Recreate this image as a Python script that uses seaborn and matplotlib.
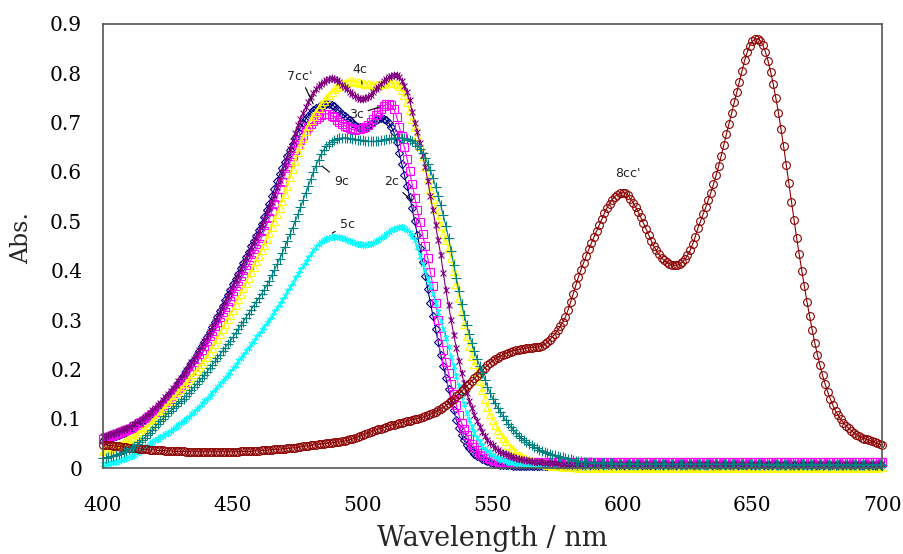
import numpy as np
import matplotlib
matplotlib.use("Agg")
import matplotlib.pyplot as plt
from matplotlib.path import Path
import seaborn as sns

# Absorption spectra, 1 nm steps from 400 to 700 nm.
# Values are Abs x 1000 (one row = 10 nm).
wavelength = np.arange(400, 701)

abs_2c = [
    55, 57, 59, 61, 63, 65, 67, 69, 71, 74,
    78, 81, 84, 88, 92, 96, 100, 104, 108, 113,
    118, 123, 128, 134, 140, 146, 152, 158, 165, 172,
    180, 188, 196, 204, 212, 220, 229, 238, 247, 256,
    265, 275, 285, 296, 307, 318, 329, 340, 351, 361,
    372, 383, 394, 405, 416, 427, 438, 449, 460, 471,
    482, 495, 508, 522, 536, 551, 566, 581, 595, 608,
    620, 633, 645, 657, 669, 680, 690, 699, 707, 714,
    720, 725, 729, 732, 735, 736, 737, 737, 736, 733,
    728, 723, 718, 714, 709, 705, 700, 696, 692, 691,
    691, 692, 694, 697, 701, 705, 708, 709, 708, 705,
    699, 691, 680, 660, 638, 616, 594, 572, 550, 526,
    500, 473, 446, 418, 390, 362, 335, 308, 282, 256,
    230, 206, 183, 160, 138, 117, 98, 82, 68, 56,
    47, 40, 34, 29, 25, 22, 19, 16, 14, 12,
    10, 9, 8, 7, 7, 6, 6, 6, 5, 5,
    5, 5, 5, 5, 5, 5, 5, 5, 5, 5,
    5, 5, 4, 5, 5, 4, 5, 5, 4, 5,
    5, 4, 5, 5, 4, 5, 5, 5, 4, 5,
    5, 4, 5, 5, 5, 4, 5, 5, 4, 5,
    4, 5, 5, 5, 4, 5, 5, 4, 5, 5,
    5, 4, 5, 5, 4, 5, 5, 5, 4, 5,
    5, 4, 5, 5, 5, 4, 5, 5, 4, 5,
    5, 5, 4, 5, 5, 4, 5, 5, 5, 4,
    5, 5, 4, 5, 5, 5, 4, 5, 5, 4,
    5, 5, 5, 4, 5, 5, 4, 5, 5, 5,
    4, 5, 5, 4, 5, 5, 5, 4, 5, 5,
    4, 5, 5, 5, 4, 5, 5, 4, 5, 5,
    5, 4, 5, 5, 4, 5, 5, 5, 4, 5,
    5, 4, 5, 5, 5, 4, 5, 5, 4, 5,
    5,
]

abs_3c = [
    60, 62, 63, 65, 67, 69, 71, 73, 75, 77,
    80, 82, 85, 88, 91, 94, 97, 101, 105, 109,
    113, 118, 123, 128, 134, 140, 146, 152, 158, 163,
    168, 175, 182, 190, 198, 206, 214, 222, 231, 239,
    248, 257, 267, 277, 287, 297, 307, 317, 327, 338,
    348, 359, 369, 380, 390, 401, 411, 422, 433, 444,
    455, 467, 480, 493, 506, 520, 535, 550, 565, 580,
    595, 608, 620, 632, 644, 655, 665, 674, 682, 690,
    697, 703, 708, 712, 715, 717, 718, 717, 714, 711,
    706, 702, 698, 694, 690, 688, 686, 685, 686, 687,
    689, 692, 696, 701, 708, 715, 722, 728, 733, 737,
    738, 735, 727, 712, 692, 672, 650, 627, 602, 575,
    548, 522, 498, 474, 450, 425, 398, 368, 335, 300,
    268, 240, 215, 192, 170, 150, 128, 108, 92, 79,
    68, 58, 49, 42, 36, 31, 27, 24, 21, 18,
    16, 15, 14, 13, 13, 12, 12, 12, 12, 12,
    12, 13, 12, 12, 13, 12, 12, 12, 13, 12,
    12, 12, 13, 12, 12, 13, 12, 12, 12, 13,
    12, 12, 12, 13, 12, 12, 13, 12, 12, 12,
    13, 12, 12, 12, 13, 12, 12, 12, 13, 12,
    12, 13, 12, 12, 12, 13, 12, 12, 12, 13,
    12, 12, 13, 12, 12, 12, 13, 12, 12, 12,
    13, 12, 12, 12, 13, 12, 12, 13, 12, 12,
    12, 13, 12, 12, 12, 13, 12, 12, 12, 13,
    12, 12, 12, 13, 12, 12, 13, 12, 12, 12,
    13, 12, 12, 12, 13, 12, 12, 12, 13, 12,
    12, 13, 12, 12, 12, 13, 12, 12, 13, 12,
    12, 12, 13, 12, 12, 12, 13, 12, 12, 12,
    13, 12, 12, 13, 12, 12, 12, 13, 12, 12,
    12, 13, 12, 12, 12, 13, 12, 12, 12, 13,
    12,
]

abs_4c = [
    35, 37, 39, 41, 43, 45, 47, 49, 52, 55,
    58, 61, 64, 68, 72, 76, 80, 84, 88, 94,
    100, 106, 112, 118, 124, 130, 136, 142, 148, 154,
    160, 166, 172, 178, 184, 190, 197, 204, 211, 218,
    225, 234, 243, 252, 262, 272, 282, 292, 302, 311,
    320, 331, 342, 353, 364, 375, 386, 397, 408, 419,
    430, 441, 452, 464, 476, 488, 501, 514, 527, 541,
    555, 572, 589, 606, 623, 640, 655, 669, 682, 694,
    705, 714, 722, 730, 737, 744, 750, 756, 762, 767,
    772, 775, 778, 781, 783, 784, 784, 783, 782, 781,
    780, 779, 778, 778, 777, 777, 777, 778, 779, 780,
    781, 781, 780, 778, 774, 766, 755, 741, 725, 708,
    690, 672, 652, 632, 610, 588, 566, 545, 525, 507,
    490, 475, 462, 445, 425, 400, 373, 345, 318, 292,
    268, 247, 228, 211, 195, 176, 158, 140, 124, 110,
    98, 88, 78, 69, 61, 54, 47, 41, 36, 31,
    27, 24, 21, 18, 16, 14, 12, 11, 10, 9,
    8, 7, 6, 5, 5, 4, 4, 3, 3, 3,
    2, 2, 2, 1, 2, 2, 1, 2, 2, 1,
    2, 1, 2, 2, 1, 2, 1, 2, 2, 1,
    2, 2, 1, 2, 1, 2, 2, 1, 2, 1,
    2, 1, 2, 2, 1, 2, 2, 1, 2, 1,
    2, 2, 1, 2, 2, 1, 2, 1, 2, 2,
    1, 2, 2, 1, 2, 1, 2, 2, 1, 2,
    1, 2, 2, 1, 2, 2, 1, 2, 1, 2,
    2, 1, 2, 1, 2, 2, 1, 2, 2, 1,
    2, 2, 1, 2, 1, 2, 2, 1, 2, 1,
    2, 1, 2, 2, 1, 2, 2, 1, 2, 1,
    2, 2, 1, 2, 2, 1, 2, 1, 2, 2,
    1, 2, 2, 1, 2, 1, 2, 2, 1, 2,
    2,
]

abs_5c = [
    8, 9, 10, 11, 12, 13, 14, 16, 18, 20,
    22, 24, 27, 30, 33, 36, 40, 44, 48, 52,
    56, 60, 63, 66, 69, 72, 76, 80, 84, 88,
    92, 96, 100, 104, 109, 114, 119, 124, 130, 135,
    141, 147, 153, 159, 165, 171, 177, 183, 189, 195,
    202, 209, 216, 223, 230, 237, 244, 251, 258, 265,
    272, 279, 286, 293, 301, 309, 317, 325, 333, 341,
    349, 358, 367, 376, 385, 394, 402, 410, 418, 426,
    434, 441, 448, 453, 458, 462, 465, 467, 468, 469,
    469, 468, 467, 465, 463, 460, 458, 456, 454, 453,
    452, 452, 453, 455, 457, 460, 463, 466, 470, 474,
    478, 482, 485, 487, 489, 489, 487, 483, 477, 470,
    462, 447, 430, 414, 399, 384, 369, 352, 335, 317,
    299, 281, 263, 245, 226, 206, 186, 166, 147, 129,
    112, 97, 84, 72, 62, 53, 45, 39, 34, 30,
    26, 23, 20, 18, 16, 14, 13, 12, 11, 10,
    9, 9, 9, 8, 8, 8, 8, 7, 7, 7,
    7, 6, 7, 6, 6, 7, 6, 6, 7, 6,
    6, 6, 7, 6, 6, 6, 5, 6, 6, 6,
    5, 6, 6, 5, 6, 6, 6, 5, 6, 6,
    5, 6, 6, 5, 6, 5, 6, 6, 5, 6,
    6, 5, 6, 5, 6, 6, 5, 6, 5, 6,
    5, 6, 6, 5, 6, 5, 6, 5, 6, 6,
    5, 6, 5, 6, 6, 5, 6, 5, 6, 5,
    6, 5, 6, 6, 5, 6, 5, 6, 5, 6,
    5, 6, 5, 6, 5, 6, 6, 5, 6, 5,
    6, 5, 6, 5, 6, 5, 6, 6, 5, 6,
    5, 6, 5, 6, 5, 6, 5, 6, 6, 5,
    6, 5, 6, 5, 6, 5, 6, 5, 6, 5,
    6, 6, 5, 6, 5, 6, 5, 6, 5, 6,
    6,
]

abs_7cc = [
    65, 66, 68, 69, 71, 73, 75, 77, 79, 81,
    84, 87, 90, 93, 96, 100, 104, 108, 112, 117,
    122, 127, 132, 138, 144, 150, 156, 162, 169, 176,
    183, 190, 198, 206, 214, 222, 230, 239, 248, 257,
    266, 276, 286, 296, 306, 316, 326, 337, 348, 359,
    370, 381, 392, 403, 414, 425, 436, 447, 458, 469,
    480, 492, 504, 516, 528, 540, 554, 569, 584, 599,
    615, 631, 647, 663, 679, 695, 708, 720, 731, 742,
    752, 760, 768, 774, 779, 783, 786, 789, 790, 789,
    786, 782, 777, 772, 767, 762, 757, 753, 750, 748,
    748, 749, 752, 756, 761, 767, 773, 779, 784, 788,
    792, 795, 797, 796, 792, 785, 775, 762, 745, 722,
    700, 680, 658, 635, 610, 582, 552, 522, 492, 462,
    432, 395, 360, 330, 300, 270, 243, 217, 193, 172,
    153, 136, 121, 107, 95, 84, 74, 65, 57, 51,
    46, 41, 37, 33, 30, 28, 26, 24, 22, 21,
    19, 18, 17, 16, 15, 14, 13, 13, 12, 12,
    11, 11, 10, 10, 10, 10, 9, 9, 9, 9,
    9, 9, 9, 8, 9, 9, 9, 9, 8, 9,
    9, 9, 8, 9, 9, 9, 8, 9, 9, 9,
    9, 8, 9, 9, 9, 9, 8, 9, 9, 8,
    9, 9, 9, 8, 9, 9, 9, 9, 8, 9,
    9, 8, 9, 9, 9, 8, 9, 9, 9, 9,
    8, 9, 9, 9, 8, 9, 9, 9, 9, 8,
    9, 9, 8, 9, 9, 9, 9, 8, 9, 9,
    9, 9, 8, 9, 9, 9, 8, 9, 9, 9,
    9, 8, 9, 9, 9, 9, 8, 9, 9, 8,
    9, 9, 9, 8, 9, 9, 9, 9, 8, 9,
    9, 8, 9, 9, 9, 8, 9, 9, 9, 9,
    8, 9, 9, 9, 8, 9, 9, 9, 9, 8,
    9,
]

abs_8cc = [
    47, 47, 46, 46, 45, 45, 44, 43, 43, 42,
    41, 41, 40, 40, 39, 39, 38, 38, 37, 37,
    37, 36, 36, 36, 35, 35, 35, 34, 34, 34,
    34, 34, 33, 33, 33, 33, 33, 33, 33, 33,
    33, 33, 33, 33, 33, 33, 33, 33, 33, 33,
    33, 33, 33, 34, 34, 34, 34, 34, 35, 35,
    35, 36, 36, 36, 37, 37, 38, 38, 38, 39,
    39, 40, 40, 41, 41, 42, 43, 44, 45, 45,
    46, 47, 47, 48, 49, 49, 50, 51, 51, 52,
    53, 53, 54, 55, 56, 58, 59, 61, 63, 65,
    67, 69, 71, 73, 75, 77, 79, 80, 82, 84,
    85, 87, 88, 89, 91, 92, 93, 95, 96, 98,
    99, 100, 102, 103, 105, 107, 109, 111, 114, 117,
    120, 123, 127, 131, 136, 141, 146, 151, 156, 161,
    166, 171, 177, 182, 187, 192, 198, 203, 208, 213,
    218, 221, 224, 227, 230, 232, 234, 236, 238, 239,
    240, 241, 242, 243, 244, 244, 245, 245, 246, 248,
    251, 255, 260, 266, 272, 279, 287, 296, 306, 320,
    336, 353, 370, 387, 402, 416, 430, 443, 456, 468,
    480, 492, 504, 516, 527, 536, 544, 550, 554, 557,
    558, 557, 553, 546, 538, 529, 519, 508, 497, 485,
    473, 461, 450, 441, 433, 426, 421, 417, 414, 412,
    411, 411, 413, 417, 423, 431, 441, 454, 469, 486,
    500, 514, 528, 543, 558, 575, 593, 612, 633, 655,
    677, 698, 719, 741, 762, 783, 805, 826, 843, 856,
    865, 869, 870, 866, 857, 843, 825, 803, 778, 750,
    720, 687, 652, 615, 577, 540, 503, 467, 433, 400,
    368, 337, 308, 280, 254, 230, 208, 188, 170, 154,
    140, 127, 116, 107, 99, 92, 86, 81, 76, 72,
    68, 65, 62, 60, 58, 56, 54, 52, 50, 48,
    47,
]

abs_9c = [
    20, 21, 22, 24, 25, 27, 29, 31, 33, 35,
    38, 41, 44, 48, 52, 57, 62, 67, 72, 77,
    83, 89, 95, 100, 106, 111, 116, 121, 126, 131,
    136, 141, 147, 152, 158, 164, 170, 176, 182, 188,
    195, 202, 209, 216, 223, 230, 237, 244, 251, 258,
    265, 273, 281, 289, 297, 305, 313, 321, 329, 337,
    345, 353, 361, 370, 380, 391, 402, 413, 424, 436,
    448, 461, 474, 487, 500, 514, 528, 543, 557, 571,
    585, 600, 613, 625, 636, 645, 652, 657, 661, 664,
    666, 668, 669, 669, 669, 668, 667, 666, 665, 665,
    664, 663, 662, 662, 662, 662, 663, 664, 665, 666,
    667, 668, 669, 669, 669, 669, 668, 667, 665, 662,
    658, 653, 647, 639, 629, 617, 604, 588, 570, 552,
    533, 512, 490, 466, 440, 412, 385, 358, 333, 311,
    290, 271, 253, 237, 221, 207, 193, 179, 165, 152,
    141, 131, 122, 113, 105, 97, 90, 83, 77, 71,
    66, 61, 57, 53, 49, 46, 43, 40, 37, 35,
    33, 31, 29, 27, 26, 24, 23, 22, 20, 19,
    18, 16, 15, 15, 14, 13, 13, 12, 12, 11,
    11, 11, 10, 10, 10, 10, 10, 9, 9, 9,
    9, 9, 9, 9, 9, 8, 9, 9, 8, 9,
    9, 8, 9, 8, 9, 8, 8, 9, 8, 8,
    8, 9, 8, 8, 8, 9, 8, 8, 8, 8,
    9, 8, 8, 8, 8, 8, 9, 8, 8, 8,
    8, 8, 8, 9, 8, 8, 8, 8, 8, 8,
    8, 7, 8, 8, 8, 8, 7, 8, 8, 8,
    7, 8, 8, 7, 8, 8, 7, 8, 7, 8,
    8, 7, 8, 7, 8, 7, 8, 7, 8, 7,
    7, 8, 7, 7, 8, 7, 7, 8, 7, 7,
    8, 7, 7, 7, 8, 7, 7, 7, 7, 8,
    7,
]

x_ticks = [400, 450, 500, 550, 600, 650, 700]
y_ticks = [0, 0.1, 0.2, 0.3, 0.4, 0.5, 0.6, 0.7, 0.8, 0.9]
y_tick_labels = ["0", "0.1", "0.2", "0.3", "0.4", "0.5", "0.6", "0.7", "0.8", "0.9"]

sns.set_theme(style="white")
plt.rcParams["font.family"] = ["DejaVu Serif"]

# Excel-like "star" marker: an x with a vertical bar
star = Path(
    [(-1, -1), (1, 1), (-1, 1), (1, -1), (0, -1.3), (0, 1.3)],
    [Path.MOVETO, Path.LINETO, Path.MOVETO, Path.LINETO, Path.MOVETO, Path.LINETO],
)

series = [
    ("2c", abs_2c, "#000080", "D", 4.0),
    ("3c", abs_3c, "#FF00FF", "s", 5.8),
    ("4c", abs_4c, "#FFFF00", "^", 6.0),
    ("5c", abs_5c, "#00FFFF", star, 5.0),
    ("7cc'", abs_7cc, "#800080", star, 5.5),
    ("8cc'", abs_8cc, "#8B0000", "o", 5.6),
    ("9c", abs_9c, "#008080", "+", 6.5),
]

fig, ax = plt.subplots(figsize=(9.04, 5.54), dpi=100)
fig.subplots_adjust(left=0.114, right=0.976, top=0.957, bottom=0.155)

for name, vals, color, marker, ms in series:
    absorbance = np.array(vals) / 1000.0
    sns.lineplot(
        x=wavelength, y=absorbance, ax=ax, estimator=None, errorbar=None,
        color=color, lw=0.8, marker=marker, markersize=ms,
        mfc="none", mec=color, mew=0.8, clip_on=False,
    )

# curve labels with leader lines (text position, point on curve)
labels = [
    ("7cc'", (475.9, 0.793), (480.9, 0.738)),
    ("4c", (499.0, 0.807), (499.7, 0.778)),
    ("3c", (497.4, 0.716), (506.7, 0.732)),
    ("9c", (491.7, 0.580), (484.3, 0.612)),
    ("2c", (510.9, 0.580), (519.0, 0.541)),
    ("5c", (494.0, 0.493), (488.2, 0.476)),
]
for text, txy, pxy in labels:
    ax.annotate(
        text, xy=pxy, xytext=txy, ha="center", va="center",
        fontsize=9, family=["DejaVu Sans"], color="#222222",
        arrowprops=dict(arrowstyle="-", color="black", lw=0.8, shrinkA=1, shrinkB=0),
    )
ax.text(602.2, 0.596, "8cc'", ha="center", va="center", fontsize=9,
        family=["DejaVu Sans"], color="#222222")

ax.set_xlim(400, 700)
ax.set_ylim(0, 0.9)
ax.set_xticks(x_ticks)
ax.set_yticks(y_ticks)
ax.set_yticklabels(y_tick_labels)
ax.tick_params(axis="both", direction="in", length=8, width=1, color="#555555",
               labelsize=14.5, labelcolor="black")
ax.tick_params(axis="x", pad=20)
ax.tick_params(axis="y", pad=15)
for spine in ax.spines.values():
    spine.set_color("#555555")
    spine.set_linewidth(1.2)

ax.set_xlabel("Wavelength / nm", fontsize=19.5, labelpad=7)
ax.set_ylabel("Abs.", fontsize=17)
ax.yaxis.set_label_coords(-0.09, 0.518)

fig.savefig("out.png", dpi=100)
